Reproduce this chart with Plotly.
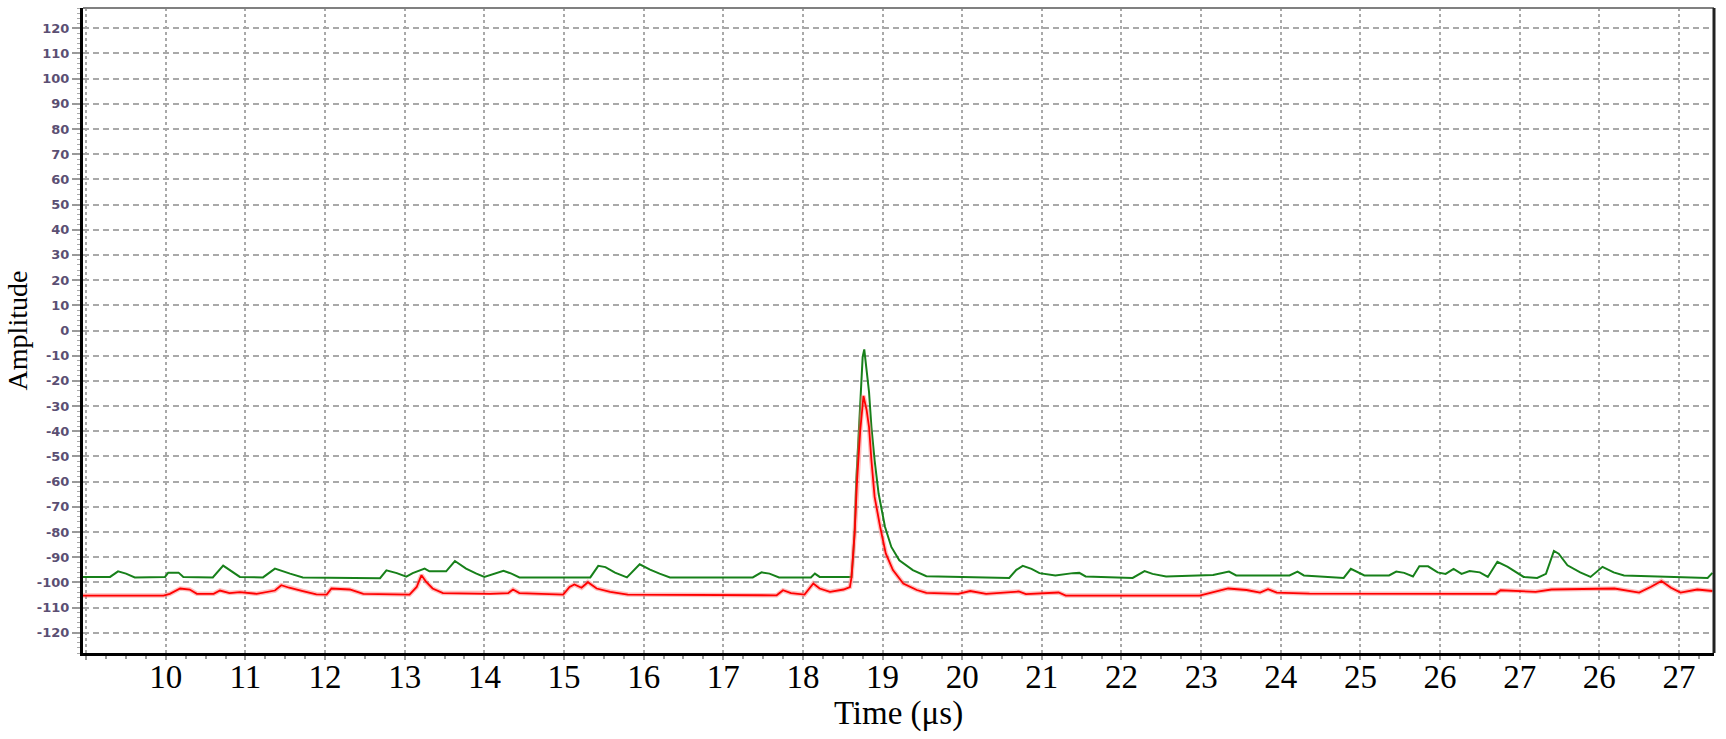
import plotly.graph_objects as go

# ---- data ----
x_tick_positions = list(range(9, 30))
x_tick_labels = ["", "10", "11", "12", "13", "14", "15", "16", "17", "18", "19", "20",
                 "21", "22", "23", "24", "25", "26", "27", "26", "27"]
y_tick_values = list(range(-120, 130, 10))
y_tick_labels = [str(v) for v in y_tick_values]

green_t = [8.96, 9.30, 9.40, 9.50, 9.61, 9.99, 10.03, 10.16, 10.22, 10.59, 10.72, 10.87, 10.93,
           11.22, 11.37, 11.56, 11.72, 12.69, 12.77, 12.90, 13.02, 13.10, 13.25, 13.31, 13.52,
           13.63, 13.77, 13.90, 14.00, 14.24, 14.34, 14.44, 15.33, 15.43, 15.52, 15.64, 15.79,
           15.95, 16.08, 16.20, 16.33, 17.37, 17.48, 17.58, 17.70, 18.10, 18.15, 18.21, 18.61,
           18.63, 18.65, 18.67, 18.70, 18.73, 18.75, 18.77, 18.80, 18.83, 18.86, 18.90, 18.95,
           19.03, 19.11, 19.21, 19.38, 19.55, 20.59, 20.68, 20.76, 20.87, 20.97, 21.17, 21.39,
           21.47, 21.55, 22.14, 22.29, 22.39, 22.56, 23.15, 23.35, 23.44, 24.11, 24.21, 24.29,
           24.79, 24.88, 24.96, 25.05, 25.36, 25.45, 25.55, 25.66, 25.74, 25.85, 25.97, 26.07,
           26.17, 26.27, 26.37, 26.50, 26.60, 26.72, 26.85, 26.97, 27.05, 27.22, 27.33, 27.43,
           27.49, 27.60, 27.76, 27.89, 28.04, 28.18, 28.31, 29.36, 29.42]
green_v = [-97.8, -97.8, -95.6, -96.5, -98.0, -97.8, -96.1, -96.1, -97.8, -98.0, -93.3, -96.5, -97.8,
           -98.0, -94.5, -96.5, -98.0, -98.3, -95.2, -96.3, -97.7, -96.3, -94.5, -95.6, -95.6,
           -91.5, -94.5, -96.5, -97.8, -95.4, -96.5, -98.0, -98.0, -93.4, -93.9, -96.1, -98.0,
           -92.8, -94.9, -96.5, -98.0, -98.0, -96.0, -96.5, -98.0, -98.0, -96.5, -97.8, -97.8,
           -89.8, -79.2, -59.4, -39.6, -19.7, -10.5, -7.5, -15.8, -24.4, -38.3, -51.5, -64.7,
           -77.9, -85.9, -91.2, -95.1, -97.5, -98.2, -95.0, -93.4, -94.6, -96.3, -97.2, -96.3,
           -96.2, -97.6, -98.2, -95.5, -96.6, -97.6, -97.0, -95.7, -97.2, -97.2, -95.7, -97.2,
           -98.2, -94.6, -95.9, -97.2, -97.2, -95.7, -96.2, -97.6, -93.6, -93.6, -96.0, -96.6,
           -94.6, -96.6, -95.5, -96.0, -97.8, -91.8, -93.8, -96.2, -97.8, -98.2, -96.6, -87.5,
           -88.6, -93.2, -96.0, -97.8, -93.8, -96.0, -97.2, -98.2, -96.2]

red_t = [8.96, 9.97, 10.05, 10.18, 10.30, 10.39, 10.60, 10.68, 10.80, 10.93, 11.14, 11.37, 11.45,
         11.55, 11.72, 11.89, 12.02, 12.08, 12.31, 12.48, 13.06, 13.15, 13.21, 13.27, 13.35,
         13.48, 14.07, 14.30, 14.36, 14.44, 14.99, 15.07, 15.13, 15.22, 15.30, 15.41, 15.58,
         15.80, 17.67, 17.75, 17.85, 18.02, 18.13, 18.21, 18.34, 18.51, 18.59, 18.61, 18.65,
         18.68, 18.72, 18.75, 18.76, 18.80, 18.83, 18.86, 18.90, 18.97, 19.04, 19.13, 19.26,
         19.43, 19.55, 19.95, 20.10, 20.30, 20.71, 20.80, 21.21, 21.30, 22.98, 23.34, 23.57,
         23.74, 23.84, 23.95, 24.36, 26.70, 26.76, 27.20, 27.40, 28.19, 28.50, 28.65, 28.78,
         28.90, 29.02, 29.23, 29.42]
red_v = [-105.2, -105.2, -104.5, -102.4, -102.8, -104.5, -104.5, -103.2, -104.2, -103.8, -104.5,
         -103.2, -101.1, -102.1, -103.4, -104.7, -104.8, -102.4, -102.8, -104.5, -104.8, -101.8,
         -97.1, -99.8, -102.4, -104.2, -104.5, -104.2, -102.8, -104.2, -104.8, -101.8, -100.8,
         -102.1, -99.9, -102.4, -103.7, -104.8, -105.1, -103.1, -104.2, -104.8, -100.4, -102.4,
         -103.7, -102.8, -101.8, -98.0, -80.0, -59.4, -39.6, -26.4, -26.0, -31.6, -38.3, -51.5,
         -66.0, -78.0, -88.5, -95.1, -100.4, -103.0, -104.1, -104.5, -103.4, -104.5, -103.6,
         -104.6, -104.0, -105.2, -105.2, -102.4, -103.0, -104.0, -102.7, -104.0, -104.4, -104.5,
         -103.1, -103.7, -102.8, -102.4, -104.0, -101.7, -99.4, -102.1, -104.0, -102.8, -103.4]

GRID = "#a9a9a9"
SERIF = "Liberation Serif, Times New Roman, serif"

fig = go.Figure()
fig.add_trace(go.Scatter(x=green_t, y=green_v, mode="lines",
                         line=dict(color="#17801a", width=2), showlegend=False))
fig.add_trace(go.Scatter(x=red_t, y=red_v, mode="lines",
                         line=dict(color="rgba(255,110,110,0.45)", width=4.5),
                         showlegend=False, hoverinfo="skip"))
fig.add_trace(go.Scatter(x=red_t, y=red_v, mode="lines",
                         line=dict(color="#ff0000", width=1.8), showlegend=False))

fig.update_layout(
    width=1726, height=739,
    margin=dict(l=83, r=12, t=8, b=86),
    paper_bgcolor="white", plot_bgcolor="white",
    showlegend=False,
    xaxis=dict(
        range=[8.96, 29.44],
        tickmode="array", tickvals=x_tick_positions, ticktext=x_tick_labels,
        tickfont=dict(family=SERIF, size=33, color="black"),
        ticks="outside", ticklen=4, tickcolor="#999", tickwidth=1.5,
        ticklabelstandoff=-12,
        showgrid=True, gridcolor=GRID, griddash="dot", gridwidth=1.5,
        showline=True, linecolor="black", linewidth=3,
        zeroline=False,
        minor=dict(tick0=9, dtick=0.25, ticks="outside", ticklen=3,
                   tickcolor="#999", tickwidth=1.5, showgrid=False),
        title=dict(text="Time (μs)", font=dict(family=SERIF, size=33, color="black"),
                   standoff=2),
    ),
    yaxis=dict(
        range=[-128, 128],
        tickmode="array", tickvals=y_tick_values, ticktext=y_tick_labels,
        tickfont=dict(family="DejaVu Sans", size=13, color="#5b4f73", weight="bold"),
        ticks="outside", ticklen=8, tickcolor="#999", tickwidth=1.5,
        showgrid=True, gridcolor=GRID, griddash="6px,4px", gridwidth=1.5,
        showline=True, linecolor="black", linewidth=3,
        zeroline=False,
        minor=dict(tick0=0, dtick=2, ticks="outside", ticklen=3,
                   tickcolor="#aaa", tickwidth=1, showgrid=False),
        title=dict(text="Amplitude", font=dict(family=SERIF, size=28, color="black"),
                   standoff=2),
    ),
    shapes=[
        dict(type="line", xref="paper", yref="paper", x0=0, x1=1, y0=1, y1=1,
             line=dict(color="#808080", width=2)),
        dict(type="line", xref="paper", yref="paper", x0=1, x1=1, y0=0, y1=1,
             line=dict(color="#222222", width=3)),
    ],
)

fig.write_html("out.html")
